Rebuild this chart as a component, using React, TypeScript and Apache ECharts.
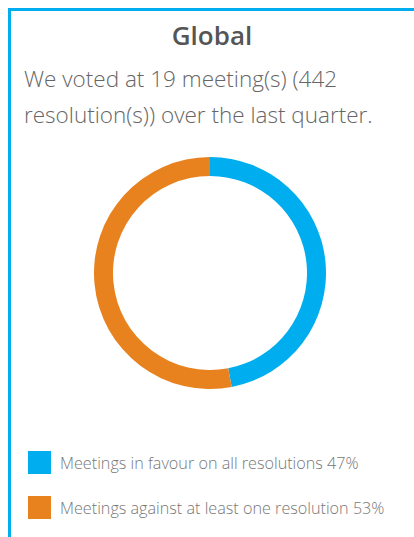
import React, { useEffect, useRef } from "react";
import * as echarts from "echarts";

const titleText = "Global";
const introLines = ["We voted at 19 meeting(s) (442", "resolution(s)) over the last quarter."];
const categories = ["Meetings in favour on all resolutions", "Meetings against at least one resolution"];
const percentValues = [47, 53];
const sliceColors = ["#00AEEF", "#E8821E"];

export default function App() {
  const ref = useRef<HTMLDivElement>(null);
  useEffect(() => {
    const chart = echarts.init(ref.current!, undefined, { renderer: "svg" });
    const font = "'Open Sans', 'Noto Sans', sans-serif";
    chart.setOption({
      animation: false,
      color: sliceColors,
      graphic: [
        { type: "rect", shape: { x: 8, y: 8, width: 406, height: 3 }, style: { fill: "#00AEEF" } },
        { type: "rect", shape: { x: 8, y: 8, width: 3, height: 529 }, style: { fill: "#00AEEF" } },
        {
          type: "text", x: 212, y: 35,
          style: { text: titleText, fill: "#555555", font: `600 26px ${font}`, textAlign: "center", textVerticalAlign: "middle" },
        },
        {
          type: "text", x: 24, y: 78,
          style: { text: introLines[0], fill: "#666666", font: `300 22.5px ${font}`, textAlign: "left", textVerticalAlign: "middle" },
        },
        {
          type: "text", x: 24, y: 114,
          style: { text: introLines[1], fill: "#666666", font: `300 22.5px ${font}`, textAlign: "left", textVerticalAlign: "middle" },
        },
      ],
      legend: {
        orient: "vertical",
        left: 28,
        top: 451,
        padding: 0,
        itemWidth: 23,
        itemHeight: 23,
        itemGap: 22,
        icon: "rect",
        selectedMode: false,
        data: categories,
        formatter: (name: string) => {
          const i = categories.indexOf(name);
          return `${name} ${percentValues[i]}%`;
        },
        textStyle: { color: "#777777", fontSize: 16.2, fontFamily: font, fontWeight: 300, padding: [0, 0, 0, 4] },
      },
      series: [
        {
          type: "pie",
          center: [210, 273],
          radius: [97, 116],
          startAngle: 90,
          clockwise: true,
          label: { show: false },
          labelLine: { show: false },
          emphasis: { disabled: true },
          itemStyle: { borderWidth: 0 },
          data: categories.map((c, i) => ({ name: c, value: percentValues[i] })),
        },
      ],
    });
    return () => chart.dispose();
  }, []);
  return (
    <div
      ref={ref}
      style={{ position: "absolute", left: 0, top: 0, width: 414, height: 537, background: "#ffffff" }}
    />
  );
}
